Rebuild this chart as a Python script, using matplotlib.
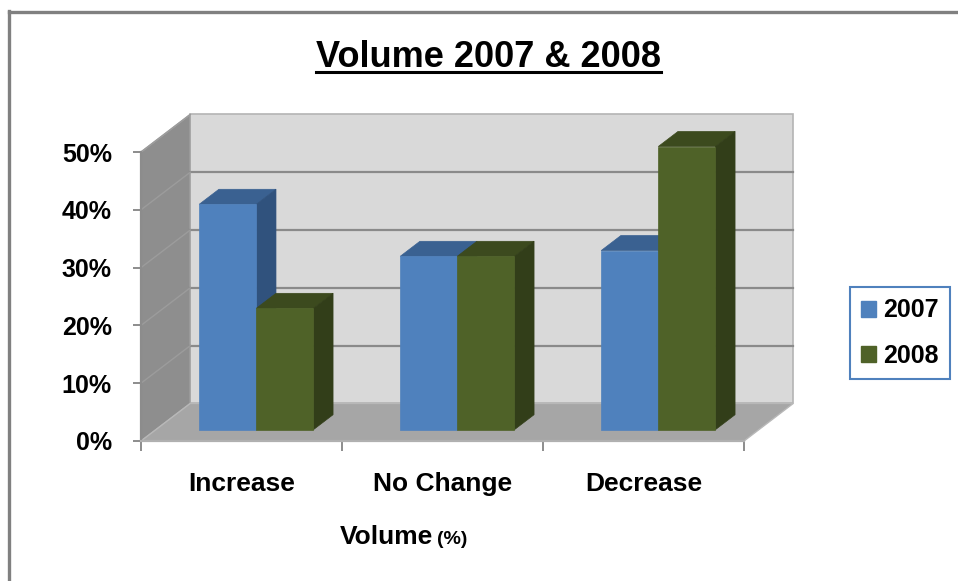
import matplotlib
matplotlib.use('Agg')
import matplotlib.pyplot as plt
from matplotlib.patches import Polygon, Patch
from matplotlib.lines import Line2D

categories = ['Increase', 'No Change', 'Decrease']
years = ['2007', '2008']
vol_2007 = [39, 30, 31]
vol_2008 = [21, 30, 49]
y_ticks = [0, 10, 20, 30, 40, 50]

plt.rcParams['font.family'] = ['Liberation Sans', 'DejaVu Sans']
plt.rcParams['font.weight'] = 'bold'

W, H = 958, 581
fig = plt.figure(figsize=(W / 100, H / 100), dpi=100)

# axes = front plane of the 3d box (x in categories, y in percent)
ax = fig.add_axes([141 / W, 1 - 441 / H, (744 - 141) / W, (441 - 152) / H])
n = len(categories)
ymax = y_ticks[-1]
ax.set_xlim(0, n)
ax.set_ylim(0, ymax)

# oblique depth of the box, in data units
DX, DY = 0.245, 6.5
# bars sit between these depth fractions
Z0, BD = 0.3, 0.4
BW = 0.284

# walls and floor
back = Polygon([(DX, DY), (n + DX, DY), (n + DX, ymax + DY), (DX, ymax + DY)],
               closed=True, facecolor='#D9D9D9', edgecolor='#B4B4B4', lw=1.2,
               clip_on=False, zorder=1)
side = Polygon([(0, 0), (DX, DY), (DX, ymax + DY), (0, ymax)],
               closed=True, facecolor='#8E8E8E', edgecolor='#A8A8A8', lw=1.0,
               clip_on=False, zorder=1)
floor = Polygon([(0, 0), (n, 0), (n + DX, DY), (DX, DY)],
                closed=True, facecolor='#A6A6A6', edgecolor='#B8B8B8', lw=1.0,
                clip_on=False, zorder=1)
for p in (back, side, floor):
    ax.add_patch(p)

for v in y_ticks[1:-1]:
    ax.plot([DX, n + DX], [v + DY, v + DY], color='#8A8A8A', lw=1.6,
            clip_on=False, zorder=2)
for v in y_ticks[1:]:
    ax.plot([0, DX], [v, v + DY], color='#9C9C9C', lw=1.0,
            clip_on=False, zorder=2)

colors = {
    '2007': ('#4F81BD', '#3A6191', '#30527D'),
    '2008': ('#4F6228', '#3C4A1E', '#323E19'),
}

base = Z0 * DY
z = 3
for i in range(n):
    for j, (yr, vals) in enumerate(zip(years, [vol_2007, vol_2008])):
        v = vals[i]
        front_c, top_c, side_c = colors[yr]
        x0 = i + 0.5 - BW + j * BW + Z0 * DX
        ox, oy = BD * DX, BD * DY
        top = Polygon([(x0, base + v), (x0 + BW, base + v),
                       (x0 + BW + ox, base + v + oy), (x0 + ox, base + v + oy)],
                      closed=True, facecolor=top_c, edgecolor=top_c, lw=0.5,
                      clip_on=False, zorder=z)
        right = Polygon([(x0 + BW, base), (x0 + BW + ox, base + oy),
                         (x0 + BW + ox, base + v + oy), (x0 + BW, base + v)],
                        closed=True, facecolor=side_c, edgecolor=side_c, lw=0.5,
                        clip_on=False, zorder=z)
        ax.add_patch(top)
        ax.add_patch(right)
        ax.bar(x0, v, width=BW, bottom=base, align='edge', color=front_c,
               edgecolor=front_c, lw=0.5, zorder=z + 0.5, clip_on=False)
        z += 1

# axes lines and ticks
for s in ('top', 'right'):
    ax.spines[s].set_visible(False)
ax.spines['left'].set_color('#8C8C8C')
ax.spines['bottom'].set_color('#B0B0B0')
ax.spines['left'].set_linewidth(1.6)
ax.spines['bottom'].set_linewidth(1.6)
ax.spines['left'].set_zorder(20)
ax.spines['bottom'].set_zorder(20)

ax.set_yticks(y_ticks)
ax.set_yticklabels([f'{v}%' for v in y_ticks])
ax.tick_params(axis='y', direction='out', length=6, width=1.4,
               color='#8C8C8C', pad=15, labelsize=18)

ax.set_xticks(range(n + 1))
ax.set_xticklabels([])
ax.set_xticks([i + 0.5 for i in range(n)], minor=True)
ax.set_xticklabels(categories, minor=True)
ax.tick_params(axis='x', which='major', direction='out', length=7, width=1.4,
               color='#8C8C8C')
ax.tick_params(axis='x', which='minor', length=0, pad=22, labelsize=19)

# axis title with smaller unit
fig.text(433 / W, 1 - 544 / H, 'Volume', ha='right', va='baseline',
         fontsize=19, weight='bold')
fig.text(437 / W, 1 - 544 / H, '(%)', ha='left', va='baseline',
         fontsize=14, weight='bold')

# underlined title
title = fig.text(488 / W, 1 - 67 / H, 'Volume 2007 & 2008', ha='center',
                 va='baseline', fontsize=26, weight='bold')
fig.canvas.draw()
bb = title.get_window_extent(fig.canvas.get_renderer())
uy = 1 - 72 / H
fig.add_artist(Line2D([bb.x0 / W, bb.x1 / W], [uy, uy], color='black',
                      lw=2.2, transform=fig.transFigure))

handles = [Patch(facecolor=colors[y][0], edgecolor=colors[y][0]) for y in years]
leg = ax.legend(handles, years, loc='center', bbox_to_anchor=(900 / W, 1 - 333 / H),
                bbox_transform=fig.transFigure, fontsize=18, handlelength=0.6,
                handleheight=0.6, handletextpad=0.3, labelspacing=0.85,
                borderpad=0.45, borderaxespad=0, fancybox=False, framealpha=1)
leg.get_frame().set_edgecolor('#4F81BD')
leg.get_frame().set_linewidth(1.5)

# outer chart border (top and left visible)
fig.add_artist(Line2D([8.5 / W, 8.5 / W], [0, 1 - 11 / H], color='#808080',
                      lw=2.4, transform=fig.transFigure))
fig.add_artist(Line2D([8.5 / W, 1], [1 - 12 / H, 1 - 12 / H], color='#808080',
                      lw=2.4, transform=fig.transFigure))

fig.savefig('out.png', dpi=100)
